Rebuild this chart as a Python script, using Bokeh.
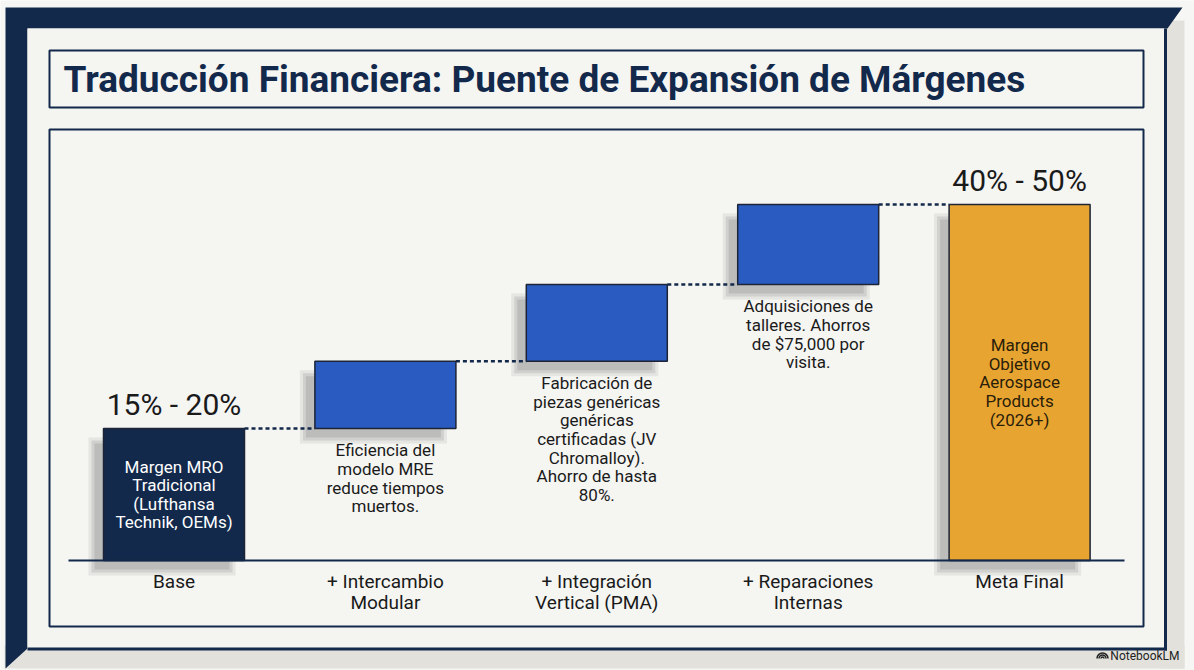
import numpy as np
from bokeh.plotting import figure
from bokeh.models import ColumnDataSource, Range1d
from bokeh.core.properties import value
from bokeh.embed import file_html
from bokeh.resources import INLINE

# ---------------- data ----------------
title = "Traducción Financiera: Puente de Expansión de Márgenes"
categories = ["Base", "+ Intercambio\nModular", "+ Integración\nVertical (PMA)",
              "+ Reparaciones\nInternas", "Meta Final"]
base_margin = 16.7          # % (range 15% - 20%)
step_gains = [8.5, 9.7, 10.1]  # % points added by each lever
final_margin = 45.0         # % (range 40% - 50%)
value_labels = ["15% - 20%", "", "", "", "40% - 50%"]
inside_notes = ["Margen MRO\nTradicional\n(Lufthansa\nTechnik, OEMs)", "", "", "",
                "Margen\nObjetivo\nAerospace\nProducts\n(2026+)"]
below_notes = ["", "Eficiencia del\nmodelo MRE\nreduce tiempos\nmuertos.",
               "Fabricación de\npiezas genéricas\ngenéricas\ncertificadas (JV\nChromalloy).\nAhorro de hasta\n80%.",
               "Adquisiciones de\ntalleres. Ahorros\nde $75,000 por\nvisita.", ""]

# ---------------- styles ----------------
NAVY = "#13294b"
BLUE = "#2a5bc0"
ORANGE = "#e8a430"
PANEL = "#f4f4f1"
OUTER = "#f6f6f4"
BEVEL = "#e2e1dc"
FONT = "Roboto"

W, H = 1194, 670
SP = 211.4   # px per category
KY = 7.911   # px per margin point
BW = 141 / SP


def X(xr):
    return (xr - 173.5) / SP


def Y(yr):
    return (560 - yr) / KY


# waterfall geometry from data
n = len(categories)
xs = list(range(n))
bottoms, tops = [0.0], [base_margin]
cum = base_margin
for g in step_gains:
    bottoms.append(cum)
    cum += g
    tops.append(cum)
bottoms.append(0.0)
tops.append(final_margin)
colors = [NAVY, BLUE, BLUE, BLUE, ORANGE]

p = figure(width=W, height=H, x_range=Range1d(X(0), X(W)),
           y_range=Range1d(Y(H), Y(0)), output_backend="svg",
           toolbar_location=None, min_border=0)
p.axis.visible = False
p.grid.visible = False
p.outline_line_color = None
p.background_fill_color = OUTER
p.border_fill_color = OUTER

# ---------------- frame decoration ----------------
p.quad(left=[X(1160)], right=[X(1184)], top=[Y(20)], bottom=[Y(668)],
       fill_color=BEVEL, line_color=None)
p.quad(left=[X(4)], right=[X(1184)], top=[Y(645)], bottom=[Y(668)],
       fill_color=BEVEL, line_color=None)
poly_x = [X(v) for v in [5, 1182, 1167, 27, 27, 5]]
poly_y = [Y(v) for v in [7, 7, 28, 28, 648, 668]]
p.patch(poly_x, poly_y, fill_color=NAVY, line_color=None)
p.quad(left=[X(27)], right=[X(1164)], top=[Y(28)], bottom=[Y(648)],
       fill_color=PANEL, line_color=None)
p.segment(x0=[X(1165), X(27)], y0=[Y(28), Y(648.5)],
          x1=[X(1165), X(1166.5)], y1=[Y(650), Y(648.5)],
          line_color=NAVY, line_width=3)

# faint blueprint lines
bx0 = [X(v) for v in [780, 920, 1010, 1060, 600, 160, 90]]
by0 = [Y(v) for v in [135, 200, 300, 430, 150, 150, 560]]
bx1 = [X(v) for v in [1140, 1140, 1140, 1140, 900, 400, 300]]
by1 = [Y(v) for v in [135, 200, 300, 430, 150, 150, 560]]
p.segment(x0=bx0, y0=by0, x1=bx1, y1=by1, line_color="#dcdcd8", line_width=1, line_alpha=0.6)

# title box and chart box
p.quad(left=[X(49)], right=[X(1143)], top=[Y(50)], bottom=[Y(107)],
       fill_color="#f5f5f2", line_color=NAVY, line_width=2)
p.quad(left=[X(49)], right=[X(1143)], top=[Y(129)], bottom=[Y(626)],
       fill_color="#f5f5f2", line_color=NAVY, line_width=2)

p.text(x=[X(63)], y=[Y(79)], text=[title], text_font=value(FONT),
       text_font_style="bold", text_font_size="37px", text_color=NAVY,
       text_align="left", text_baseline="alphabetic")

# ---------------- waterfall ----------------
src = ColumnDataSource(dict(x=xs, bottom=bottoms, top=tops, color=colors,
                            zero=[0.0] * n,
                            inside=inside_notes, below=below_notes,
                            vlab=value_labels, cat=categories))

# soft shadows
dx = -12 / SP
dy = -12 / KY
for grow, alpha in [(3, 0.10), (0, 0.14), (-3, 0.16)]:
    p.quad(left=[x - BW / 2 + dx - grow / SP for x in xs],
           right=[x + BW / 2 + dx + grow / SP for x in xs],
           top=[t + dy + grow / KY for t in tops],
           bottom=[b + dy - grow / KY for b in bottoms],
           fill_color="#555555", fill_alpha=alpha, line_color=None)

p.vbar(x="x", width=BW, bottom="bottom", top="top", source=src,
       fill_color="color", line_color="#1c2436", line_width=1.5)

# connectors
p.segment(x0=[x + BW / 2 for x in xs[:-1]], y0=tops[:-1],
          x1=[x + 1 - BW / 2 for x in xs[:-1]], y1=tops[:-1],
          line_color=NAVY, line_width=2.5, line_dash="4 3")

# baseline
p.segment(x0=[X(68)], y0=[0], x1=[X(1124)], y1=[0], line_color=NAVY, line_width=2)

# value labels
p.text(x="x", y="top", text="vlab", source=src, y_offset=-24,
       text_font=value(FONT), text_font_size="30px", text_color="#1a1a1a",
       text_align="center", text_baseline="alphabetic")

# inside notes
p.text(x=[xs[0]], y=[(bottoms[0] + tops[0]) / 2], text=[inside_notes[0]],
       text_font=value(FONT), text_font_size="17px", text_color="#ffffff",
       text_align="center", text_baseline="middle", text_line_height=0.93)
p.text(x=[xs[-1]], y=[(bottoms[-1] + tops[-1]) / 2], text=[inside_notes[-1]],
       text_font=value(FONT), text_font_size="17px", text_color="#2a1d0a",
       text_align="center", text_baseline="middle", text_line_height=0.93)

# below notes
p.text(x="x", y="bottom", text="below", source=src, y_offset=12,
       text_font=value(FONT), text_font_size="17px", text_color="#1a1a1a",
       text_align="center", text_baseline="top", text_line_height=0.93)

# category labels
p.text(x="x", y="zero", text="cat", source=src, y_offset=9,
       text_font=value(FONT), text_font_size="19px", text_color="#1a1a1a",
       text_align="center", text_baseline="top", text_line_height=0.95)

# watermark
p.arc(x=[X(1102)] * 3, y=[Y(658)] * 3, radius=[1.5, 3.5, 5.5], radius_units="screen",
      start_angle=0, end_angle=np.pi, line_color="#222222", line_width=1.5)
p.text(x=[X(1179)], y=[Y(655)], text=["NotebookLM"], text_font=value(FONT),
       text_font_size="12px", text_color="#222222", text_align="right",
       text_baseline="middle")

open("out.html", "w").write(file_html(p, INLINE))
